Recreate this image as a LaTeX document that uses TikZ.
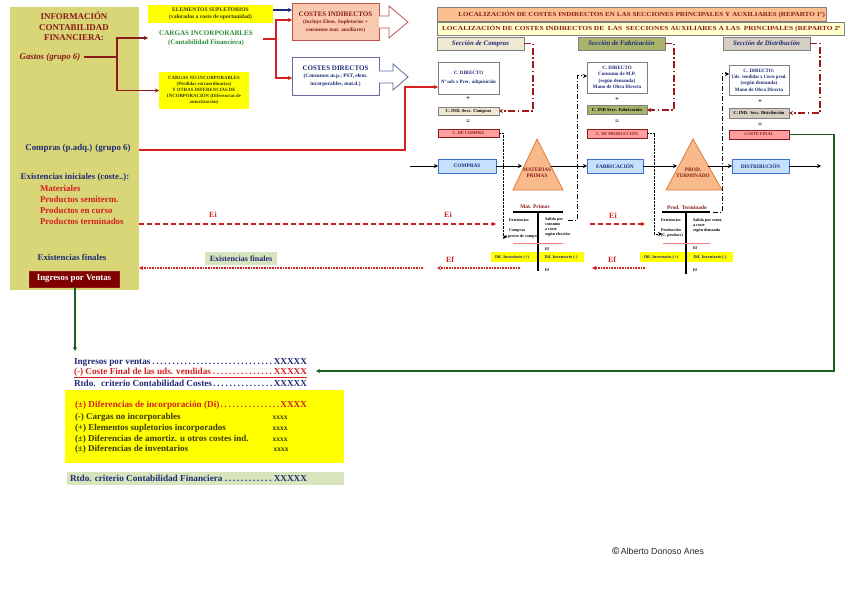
\documentclass[tikz,border=0pt]{standalone}
\usepackage{fontspec}
\setmainfont{Liberation Serif}
\newfontfamily\sansfam{Liberation Sans}
\usetikzlibrary{arrows.meta}
\definecolor{panelc}{HTML}{D8D676}
\definecolor{cmaroon}{HTML}{8B1A1A}
\definecolor{cred}{HTML}{D42020}
\definecolor{cnavy}{HTML}{1F2A78}
\definecolor{cgreen}{HTML}{2E8B3A}
\definecolor{colivet}{HTML}{3A3A08}
\definecolor{cyel}{HTML}{FFFF00}
\definecolor{clgreen}{HTML}{D8E4BC}
\definecolor{csalmon}{HTML}{F9C9AE}
\definecolor{csalbord}{HTML}{C0504D}
\definecolor{chdrone}{HTML}{FAC090}
\definecolor{chdrtwo}{HTML}{FFFFCC}
\definecolor{cbeige}{HTML}{EFE8D2}
\definecolor{colivesec}{HTML}{A9B36C}
\definecolor{cgreysec}{HTML}{D6CEC2}
\definecolor{cpink}{HTML}{FF9E9E}
\definecolor{clblue}{HTML}{C6E0FF}
\definecolor{cbluebord}{HTML}{3F6FD0}
\definecolor{ctrif}{HTML}{F8BA8A}
\definecolor{ctribord}{HTML}{E07A3A}
\definecolor{cdgreen}{HTML}{1E5E1E}
\definecolor{cdred}{HTML}{800000}
\definecolor{cddash}{HTML}{A01818}
\definecolor{cpinkline}{HTML}{F08080}
\newcommand{\fsz}[2]{\fontsize{#1}{#2}\selectfont}
\begin{document}
\begin{tikzpicture}[x=1pt,y=-1pt,
  every node/.style={inner sep=0pt,outer sep=0pt},
  arr/.style={-{Stealth[length=4pt,width=4pt]}},
  redln/.style={draw=cred,line width=1.3pt},
  mrnln/.style={draw=cmaroon,line width=1.3pt},
  ddot/.style={draw=cddash,line width=1.3pt,dash pattern=on 7pt off 2.5pt on 1.5pt off 2.5pt},
  bdot/.style={draw=black,line width=1pt,dash pattern=on 5pt off 2pt on 1pt off 2pt},
  fdot/.style={draw=black,line width=0.8pt,dash pattern=on 0.7pt off 0.7pt},
  eidash/.style={draw=cred,line width=1.3pt,dash pattern=on 5pt off 3pt},
  efdot/.style={draw=cred,line width=1.3pt,dash pattern=on 0.8pt off 0.8pt},
  flow/.style={draw=black,line width=1pt},
  cdbox/.style={draw=gray,line width=0.8pt,fill=white,font=\bfseries\fsz{5}{6.3},text=cnavy,align=center},
  smbox/.style={draw=gray,line width=0.8pt,font=\bfseries\fsz{4.6}{5},align=center},
  pkbox/.style={draw=cmaroon,line width=0.8pt,fill=cpink,font=\bfseries\fsz{4.3}{5},text=cmaroon,align=center},
  blbox/.style={draw=cbluebord,line width=0.8pt,fill=clblue,font=\bfseries\fsz{5.3}{6},text=cnavy,minimum height=14},
  secbox/.style={draw=gray,line width=0.8pt,font=\bfseries\itshape\fsz{6.8}{7},text=cnavy,minimum width=87,minimum height=13},
  tac/.style={font=\bfseries\fsz{4.1}{5},anchor=west,align=left},
  eilab/.style={font=\bfseries\fsz{8}{8},text=cred},
  opsign/.style={font=\bfseries\fsz{7}{7}},
  dif/.style={font=\bfseries\fsz{4.3}{4.5},text=cnavy}
]
\fill[white] (0,0) rectangle (848,599);
\useasboundingbox (0,0) rectangle (848,599);

% ---------- left panel
\node[fill=panelc,minimum width=129,minimum height=283] (panel) at (74.5,148.5) {};
\node[font=\bfseries\fsz{8.9}{10.5},text=cmaroon,align=center] (info) at (74,26.5) {INFORMACIÓN\\CONTABILIDAD\\FINANCIERA:};
\node[font=\bfseries\itshape\fsz{8.8}{9},text=cmaroon] (gastos) at (50,57) {Gastos (grupo 6)};
\node[font=\bfseries\fsz{8.9}{9},text=cnavy] (compras) at (78,148) {Compras (p.adq.) (grupo 6)};
\node[font=\bfseries\fsz{8.8}{9},text=cnavy] (exini) at (75,177) {Existencias iniciales (coste..):};
\node[font=\bfseries\fsz{8.9}{10.9},text=cred,anchor=north west,align=left] (exlist) at (40,185.5) {Materiales\\Productos semiterm.\\Productos en curso\\Productos terminados};
\node[font=\bfseries\fsz{8.8}{9},text=cnavy] (exfin) at (72,257) {Existencias finales};
\node[fill=cdred,draw=cmaroon,minimum width=90,minimum height=16,font=\bfseries\fsz{8.8}{9},text=white] (ingv) at (74,279) {Ingresos por Ventas};

% ---------- top middle
\node[fill=cyel,minimum width=125,minimum height=18,font=\bfseries\fsz{5.6}{7},text=colivet,align=center] (elem) at (210.5,14) {ELEMENTOS SUPLETORIOS\\(valorados a coste de oportunidad)};
\node[font=\bfseries\fsz{7.1}{8.8},text=cgreen,align=center] (cinc) at (206,38.5) {CARGAS INCORPORABLES\\{\fsz{6.8}{8.8}(Contabilidad Financiera)}};
\node[fill=cyel,minimum width=90,minimum height=37,font=\bfseries\fsz{4.8}{6},text=colivet,align=center] (cni) at (204,90.5) {CARGAS NO INCORPORABLES\\(Pérdidas extraordinarias)\\Y OTRAS DIFERENCIAS DE\\INCORPORACIÓN (Diferencias de\\amortización)};
\node[fill=csalmon,draw=csalbord,line width=0.8pt,minimum width=87,minimum height=37,font=\bfseries\fsz{5.3}{7.5},text=cmaroon,align=center] (cind) at (335.5,22) {{\fsz{7}{7.5}COSTES INDIRECTOS}\\(Incluye Elem. Supletorios +\\consumos mat. auxiliares)};
\node[fill=white,draw=cnavy!70,line width=0.8pt,minimum width=87,minimum height=38,font=\bfseries\fsz{5.3}{7.5},text=cnavy,align=center] (cdir) at (335.5,76) {{\fsz{7}{7.5}COSTES DIRECTOS}\\(Consumos m.p.; PST, elem.\\incorporables, mat.d.)};
\draw[draw=csalbord,fill=white,line width=0.8pt] (cind.east |- 0,16) -- (389,16) -- (389,6) -- (408,22) -- (389,38) -- (389,28) -- (cind.east |- 0,28);
\draw[draw=cnavy!70,fill=white,line width=0.8pt] (cdir.east |- 0,71) -- (393,71) -- (393,64) -- (408,77) -- (393,90) -- (393,83) -- (cdir.east |- 0,83);

% connectors top-left
\coordinate (gj) at (117,57);
\draw[mrnln] ([xshift=4pt]gastos.east) -- (gj);
\draw[mrnln,arr] (gj) |- (148,38);
\draw[mrnln,arr] (gj) |- (cni.west);
\draw[cnavy,line width=1.3pt,arr] (elem.east |- 0,10) -- (cind.west |- 0,10);
\coordinate (cj) at (276,39);
\draw[redln] (263,39) -- (cj);
\draw[redln,arr] (cj) |- (cind.west |- 0,20);
\draw[redln,arr] (cj) |- (cdir.west |- 0,78);

% ---------- top right headers
\node[fill=chdrone,draw=gray,line width=0.8pt,minimum width=389,minimum height=14] (h1) at (631.5,14) {};
\node[font=\bfseries\fsz{6.2}{6.5},text=cmaroon,anchor=east] at (825,14.3) {\scalebox{1.15}[1]{LOCALIZACIÓN DE COSTES INDIRECTOS EN LAS SECCIONES PRINCIPALES Y AUXILIARES (REPARTO 1º)}};
\node[fill=chdrtwo,draw=gray,line width=0.8pt,minimum width=407,minimum height=13] (h2) at (640.5,28.5) {};
\node[font=\bfseries\fsz{6.2}{6.5},text=cmaroon,anchor=west] at (442,28.8) {\scalebox{1.19}[1]{LOCALIZACIÓN DE COSTES INDIRECTOS DE \ LAS \ SECCIONES AUXILIARES A LAS \ PRINCIPALES (REPARTO 2º}};
\node[secbox,fill=cbeige] (scom) at (480.5,43.5) {Sección de Compras};
\node[secbox,fill=colivesec] (sfab) at (621.5,43.5) {Sección de Fabricación};
\node[secbox,fill=cgreysec] (sdis) at (766.5,43.5) {Sección de Distribución};

% direct cost boxes
\node[cdbox,minimum width=61,minimum height=32] (cd1) at (468.5,78) {C. DIRECTO\\[3pt]\scalebox{0.98}[1]{Nº uds x Prec. adquisición}};
\node[cdbox,minimum width=60,minimum height=31] (cd2) at (617,77.5) {C. DIRECTO\\Consumo de M.P.\\(según demanda)\\Mano de Obra Directa};
\node[cdbox,minimum width=60,minimum height=30] (cd3) at (759,80) {C. DIRECTO:\\\scalebox{0.92}[1]{Uds. vendidas x Coste prod.}\\(según demanda)\\Mano de Obra Directa};
\node[opsign] (p1) at (468,99) {+};
\node[opsign] (p2) at (617,100) {+};
\node[opsign] (p3) at (760,102) {+};
\node[smbox,fill=cbeige,minimum width=61,minimum height=8] (ci1) at (468.5,111) {C. IND. Secc. Compras};
\node[smbox,fill=colivesec,minimum width=60,minimum height=9] (ci2) at (617,110) {C. IND Secc. Fabricación};
\node[smbox,fill=cgreysec,minimum width=60,minimum height=10] (ci3) at (759,113) {\scalebox{0.95}[1]{C. IND. \ Secc. Distribución}};
\node[opsign] (e1) at (468,121.5) {=};
\node[opsign] (e2) at (617,121.5) {=};
\node[opsign] (e3) at (760,124.5) {=};
\node[pkbox,minimum width=61,minimum height=8] (cc1) at (468.5,133) {C. DE COMPRA};
\node[pkbox,minimum width=60,minimum height=9] (cc2) at (617,133.5) {C. DE PRODUCCIÓN};
\node[pkbox,minimum width=60,minimum height=9] (cc3) at (759,134.5) {COSTE FINAL};

% red dash-dot from sections
\draw[ddot,arr] (scom.east) -- (533,43.5) -- (533,111) -- (ci1.east);
\draw[ddot,arr] (sfab.east) -- (674,43.5) -- (674,110) -- (ci2.east);
\draw[ddot,arr] (sdis.east) -- (820,43.5) -- (820,113) -- (ci3.east);

% compras red line
\draw[redln,arr] (139,150) -- (405,150) -- (405,87) -- (cd1.west |- 0,87);

% ---------- main flow
\node[blbox,minimum width=58] (fcom) at (467,166) {COMPRAS};
\node[blbox,minimum width=56] (ffab) at (615,166) {FABRICACIÓN};
\node[blbox,minimum width=57] (fdis) at (760.5,166) {DISTRIBUCIÓN};
\draw[fill=ctrif,draw=ctribord,line width=0.8pt] (513,190) -- (537,139) -- (563,190) -- cycle;
\draw[fill=ctrif,draw=ctribord,line width=0.8pt] (666,190) -- (693,139) -- (722,190) -- cycle;
\node[font=\bfseries\fsz{5.3}{6.3},text=cmaroon,align=center] (mp) at (537,173) {MATERIAS\\PRIMAS};
\node[font=\bfseries\fsz{5.3}{6.3},text=cmaroon,align=center] (pt) at (693,172.5) {PROD.\\TERMINADO};
\coordinate (t1l) at (522,166);
\coordinate (t1r) at (551,166);
\coordinate (t2l) at (677,166);
\coordinate (t2r) at (708,166);
\draw[flow,arr] (410,166) -- (fcom.west);
\draw[flow,arr] (fcom.east) -- (t1l);
\draw[flow,arr] (t1r) -- (ffab.west);
\draw[flow,arr] (ffab.east) -- (t2l);
\draw[flow,arr] (t2r) -- (fdis.west);
\draw[flow,arr] (fdis.east) -- (821,166);

% black dash-dot to direct costs
\draw[bdot,arr] (568,220) -- (577,220) -- (577,76) -- (cd2.west |- 0,76);
\draw[bdot,arr] (713,212) -- (722,212) -- (722,74) -- (cd3.west |- 0,74);
% fine dotted
\draw[fdot,arr] (cc1.east) -- (503,133) -- (503,237) -- (507,237);
\draw[fdot,arr] (cc2.east) -- (654,133.5) -- (654,234) -- (662,234);

% ---------- T accounts
\node[font=\bfseries\fsz{5.4}{6},text=cmaroon] (tmp) at (535,207) {Mat. Primas};
\draw[line width=1.2pt] (513,212) -- (563,212);
\node[fill=cyel,minimum width=93,minimum height=10] (ymp) at (537.5,257) {};
\draw[line width=1.2pt] (538,212) -- (538,271);
\node[tac] at (509,220) {Existencias};
\node[tac] at (509,231) {Compras};
\node[tac] at (505,237) {a precio de compra};
\node[tac,font=\bfseries\fsz{4.1}{5}] at (545,227.5) {Salida por\\consumo\\a coste\\según elección};
\draw[cpinkline,line width=0.6pt] (513,243) -- (563,243);
\node[tac] at (545,249) {Ef};
\node[dif] at (512,257) {Dif. Inventario (+)};
\node[dif] at (561,257) {Dif. Inventario (-)};
\node[tac] at (545,270) {Ef};

\node[font=\bfseries\fsz{5.4}{6},text=cmaroon] (tpt) at (687,208) {Prod. Terminado};
\draw[line width=1.2pt] (662,212) -- (710,212);
\node[fill=cyel,minimum width=93,minimum height=10] (ypt) at (686.5,257) {};
\draw[line width=1.2pt] (686,212) -- (686,274);
\node[tac] at (661,220) {Existencias};
\node[tac,font=\bfseries\fsz{4.1}{5}] at (661,233.5) {Producción\\(C. producc)};
\node[tac,font=\bfseries\fsz{4.1}{5}] at (693,226) {Salida por venta\\a coste\\según demanda};
\draw[cpinkline,line width=0.6pt] (663,243) -- (710,243);
\node[tac] at (693,248) {Ef};
\node[dif] at (661,257) {Dif. Inventario (+)};
\node[dif] at (710,257) {Dif. Inventario (-)};
\node[tac] at (693,270) {Ef};

% ---------- Ei / Ef lines
\draw[eidash,arr] (panel.east |- 0,224) -- (496,224);
\node[eilab] (ei1) at (213,215) {Ei};
\node[eilab] (ei2) at (448,215) {Ei};
\draw[eidash,arr] (590,224) -- (645,224);
\node[eilab] (ei3) at (613,216) {Ei};
\draw[efdot,arr] (423,268) -- (panel.east |- 0,268);
\draw[efdot,arr] (ymp.west |- 0,268) ++(29,0) -- (437,268);
\draw[efdot,arr] (645,268) -- (592,268);
\node[eilab] (ef1) at (450,260) {Ef};
\node[eilab] (ef2) at (612,260) {Ef};
\node[fill=clgreen,minimum width=72,minimum height=13,font=\bfseries\fsz{8}{8},text=cnavy] (exfl) at (241,258.5) {Existencias finales};

% ---------- bottom results
\draw[cdgreen,line width=1.3pt,arr] (ingv.south -| 75,0) -- (75,351);
\node[anchor=west,font=\bfseries\fsz{9.2}{9},text=cnavy] (r1) at (74,362) {\hbox to 233pt{Ingresos por ventas\dotfill XXXXX}};
\node[anchor=west,font=\bfseries\fsz{9.2}{9},text=cred] (r2) at (74,373) {\underline{\hbox to 233pt{(-) Coste Final de las uds. vendidas\dotfill XXXXX}}};
\node[anchor=west,font=\bfseries\fsz{9.2}{9},text=cnavy] (r3) at (74,383.5) {\hbox to 233pt{Rtdo. \ criterio Contabilidad Costes\dotfill XXXXX}};
\draw[cdgreen,line width=1.3pt,arr] (cc3.east) -- (834,134.5) -- (834,371) -- (316,371);

\node[fill=cyel,minimum width=279,minimum height=73] (ybox) at (204.5,426.5) {};
\node[anchor=west,font=\bfseries\fsz{9.2}{9},text=cred] (d1) at (75,405) {\hbox to 232pt{(±) Diferencias de incorporación (Di)\dotfill XXXX}};
\node[anchor=west,font=\bfseries\fsz{9}{9},text=colivet] (d2) at (75,417.5) {(-) Cargas no incorporables};
\node[anchor=west,font=\bfseries\fsz{9}{9},text=colivet] (d3) at (75,428.5) {(+) Elementos supletorios incorporados};
\node[anchor=west,font=\bfseries\fsz{9}{9},text=colivet] (d4) at (75,439.5) {(±) Diferencias de amortiz. u otros costes ind.};
\node[anchor=west,font=\bfseries\fsz{9}{9},text=colivet] (d5) at (75,449.5) {(±) Diferencias de inventarios};
\node[font=\bfseries\fsz{7.5}{8},text=colivet] at (280,418) {xxxx};
\node[font=\bfseries\fsz{7.5}{8},text=colivet] at (280,429) {xxxx};
\node[font=\bfseries\fsz{7.5}{8},text=colivet] at (280,440) {xxxx};
\node[font=\bfseries\fsz{7.5}{8},text=colivet] at (281,450) {xxxx};

\node[fill=clgreen,minimum width=277,minimum height=13] (gbox) at (205.5,478.5) {};
\node[anchor=west,font=\bfseries\fsz{9.2}{9},text=cnavy] (rf) at (70,478.5) {\hbox to 237pt{Rtdo. criterio Contabilidad Financiera\dotfill XXXXX}};

\node[anchor=west,font=\sansfam\fsz{8.8}{9},text=black!85] (copy) at (612,551) {{\bfseries\fsz{10}{10}©}\,Alberto Donoso Anes};
\end{tikzpicture}
\end{document}
